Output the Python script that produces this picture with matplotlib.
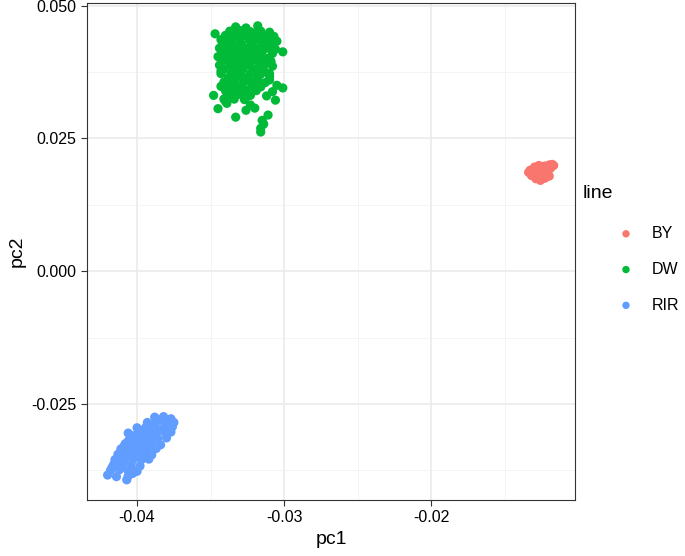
import matplotlib
matplotlib.use("Agg")
import matplotlib.pyplot as plt
import numpy as np

plt.rcParams['font.family'] = ['Liberation Sans', 'DejaVu Sans']
plt.rcParams['axes.unicode_minus'] = False

categories = ["BY", "DW", "RIR"]
colors = ["#F8766D", "#00BA38", "#619CFF"]

# BY
by_pc1 = [-0.0133, -0.0130, -0.0127, -0.0123, -0.0120, -0.0118, -0.0119, -0.0122, -0.0126, -0.0130,
          -0.0132, -0.0128, -0.0124, -0.0121, -0.0123, -0.0126, -0.0129, -0.0120, -0.0125, -0.0128,
          -0.0134, -0.0117]
by_pc2 = [0.0190, 0.0196, 0.0199, 0.0198, 0.0200, 0.0201, 0.0194, 0.0190, 0.0188, 0.0184,
          0.0180, 0.0178, 0.0182, 0.0184, 0.0175, 0.0171, 0.0174, 0.0179, 0.0193, 0.0185,
          0.0186, 0.0199]

# DW
dw_pc1 = [-0.0333, -0.0326, -0.0318,
          -0.0347, -0.0337, -0.0330, -0.0323, -0.0316, -0.0310,
          -0.0340, -0.0334, -0.0327, -0.0320, -0.0314, -0.0307,
          -0.0343, -0.0336, -0.0330, -0.0324, -0.0317, -0.0311, -0.0305,
          -0.0342, -0.0335, -0.0329, -0.0322, -0.0315, -0.0309,
          -0.0344, -0.0338, -0.0332, -0.0325, -0.0319, -0.0312, -0.0306, -0.0301,
          -0.0341, -0.0334, -0.0328, -0.0321, -0.0315, -0.0308,
          -0.0345, -0.0338, -0.0331, -0.0325, -0.0318, -0.0311,
          -0.0342, -0.0335, -0.0329, -0.0322, -0.0315, -0.0309,
          -0.0344, -0.0337, -0.0330, -0.0324, -0.0317, -0.0308,
          -0.0341, -0.0334, -0.0328, -0.0321, -0.0314,
          -0.0343, -0.0336, -0.0330, -0.0323, -0.0316, -0.0310,
          -0.0343, -0.0338, -0.0332, -0.0325, -0.0318, -0.0310,
          -0.0341, -0.0334, -0.0327, -0.0320, -0.0313,
          -0.0343, -0.0336, -0.0329, -0.0322, -0.0316,
          -0.0340, -0.0333, -0.0326, -0.0319, -0.0310, -0.0301, -0.0305,
          -0.0348, -0.0337, -0.0330, -0.0323,
          -0.0341, -0.0334, -0.0327, -0.0312, -0.0308,
          -0.0339, -0.0323, -0.0326,
          -0.0345, -0.0333, -0.0311, -0.0315, -0.0316, -0.0314, -0.0320, -0.0306, -0.0316,
          -0.0330, -0.0322, -0.0337, -0.0326, -0.0332, -0.0319, -0.0327, -0.0335, -0.0321, -0.0329,
          -0.0324, -0.0318, -0.0331, -0.0339, -0.0312, -0.0326, -0.0333, -0.0320,
          -0.0339, -0.0341, -0.0338, -0.0340]
dw_pc2 = [0.0460, 0.0458, 0.0462,
          0.0447, 0.0452, 0.0453, 0.0451, 0.0452, 0.0450,
          0.0444, 0.0444, 0.0445, 0.0444, 0.0443, 0.0442,
          0.0436, 0.0436, 0.0437, 0.0436, 0.0435, 0.0436, 0.0433,
          0.0428, 0.0428, 0.0427, 0.0428, 0.0429, 0.0427,
          0.0420, 0.0420, 0.0421, 0.0420, 0.0419, 0.0420, 0.0418, 0.0413,
          0.0412, 0.0412, 0.0411, 0.0412, 0.0413, 0.0410,
          0.0404, 0.0404, 0.0404, 0.0403, 0.0404, 0.0401,
          0.0396, 0.0396, 0.0395, 0.0396, 0.0397, 0.0395,
          0.0388, 0.0388, 0.0389, 0.0388, 0.0387, 0.0386,
          0.0380, 0.0380, 0.0381, 0.0380, 0.0379,
          0.0372, 0.0372, 0.0373, 0.0372, 0.0371, 0.0372,
          0.0377, 0.0364, 0.0364, 0.0365, 0.0364, 0.0367,
          0.0356, 0.0356, 0.0357, 0.0356, 0.0355,
          0.0348, 0.0348, 0.0349, 0.0348, 0.0347,
          0.0340, 0.0340, 0.0341, 0.0340, 0.0360, 0.0345, 0.0350,
          0.0331, 0.0332, 0.0333, 0.0331,
          0.0324, 0.0324, 0.0323, 0.0330, 0.0338,
          0.0316, 0.0313, 0.0303,
          0.0306, 0.0290, 0.0294, 0.0284, 0.0269, 0.0277, 0.0307, 0.0322, 0.0262,
          0.0440, 0.0432, 0.0424, 0.0416, 0.0408, 0.0400, 0.0392, 0.0384, 0.0376, 0.0368,
          0.0360, 0.0352, 0.0344, 0.0336, 0.0392, 0.0328, 0.0456, 0.0448,
          0.0432, 0.0400, 0.0352, 0.0320]

# RIR
rir_pc1 = [-0.0388, -0.0382, -0.0377,
           -0.0393, -0.0387, -0.0381, -0.0375,
           -0.0400, -0.0394, -0.0388, -0.0382, -0.0376,
           -0.0406, -0.0399, -0.0393, -0.0387, -0.0381, -0.0377,
           -0.0404, -0.0398, -0.0392, -0.0386, -0.0380,
           -0.0408, -0.0402, -0.0396, -0.0390, -0.0384,
           -0.0411, -0.0405, -0.0399, -0.0393, -0.0387,
           -0.0413, -0.0407, -0.0401, -0.0395, -0.0390,
           -0.0415, -0.0409, -0.0403, -0.0397, -0.0392,
           -0.0416, -0.0410, -0.0404, -0.0398,
           -0.0418, -0.0412, -0.0406, -0.0400,
           -0.0420, -0.0414, -0.0406, -0.0407,
           -0.0385, -0.0379, -0.0391, -0.0397, -0.0390, -0.0384, -0.0403, -0.0396, -0.0389,
           -0.0406, -0.0400, -0.0393, -0.0409, -0.0403, -0.0397, -0.0411, -0.0405, -0.0400,
           -0.0413, -0.0407, -0.0415, -0.0409, -0.0417, -0.0411, -0.0403]
rir_pc2 = [-0.0275, -0.0274, -0.0278,
           -0.0285, -0.0284, -0.0286, -0.0285,
           -0.0295, -0.0294, -0.0296, -0.0295, -0.0293,
           -0.0305, -0.0304, -0.0306, -0.0305, -0.0304, -0.0303,
           -0.0315, -0.0314, -0.0316, -0.0315, -0.0314,
           -0.0325, -0.0324, -0.0326, -0.0325, -0.0327,
           -0.0335, -0.0334, -0.0336, -0.0335, -0.0334,
           -0.0345, -0.0344, -0.0346, -0.0345, -0.0346,
           -0.0355, -0.0354, -0.0356, -0.0355, -0.0354,
           -0.0365, -0.0364, -0.0366, -0.0367,
           -0.0375, -0.0374, -0.0376, -0.0377,
           -0.0384, -0.0387, -0.0386, -0.0393,
           -0.0280, -0.0281, -0.0290, -0.0300, -0.0300, -0.0299, -0.0310, -0.0310, -0.0311,
           -0.0320, -0.0320, -0.0321, -0.0330, -0.0330, -0.0331, -0.0340, -0.0340, -0.0341,
           -0.0350, -0.0350, -0.0360, -0.0360, -0.0370, -0.0370, -0.0381]

x_ticks = [-0.04, -0.03, -0.02]
x_minor = [-0.035, -0.025, -0.015]
y_ticks = [-0.025, 0.000, 0.025, 0.050]
y_minor = [-0.0375, -0.0125, 0.0125, 0.0375]

fig = plt.figure(figsize=(6.85, 5.56), dpi=100)
ax = fig.add_axes([87/685, 56/556, (575-87)/685, (500-3)/556])

for v in x_minor:
    ax.axvline(v, color="#F2F2F2", lw=0.6, zorder=0)
for v in y_minor:
    ax.axhline(v, color="#F2F2F2", lw=0.6, zorder=0)
for v in x_ticks:
    ax.axvline(v, color="#EBEBEB", lw=1.2, zorder=0)
for v in y_ticks:
    ax.axhline(v, color="#EBEBEB", lw=1.2, zorder=0)

data = [(by_pc1, by_pc2), (dw_pc1, dw_pc2), (rir_pc1, rir_pc2)]
for (xs, ys), c, lab in zip(data, colors, categories):
    ax.scatter(xs, ys, s=44, color=c, edgecolors='none', label=lab, zorder=2)

ax.set_xlim(-0.0434, -0.01025)
ax.set_ylim(-0.0431, 0.0505)
ax.set_xticks(x_ticks)
ax.set_xticklabels([f"{v:.2f}" for v in x_ticks])
ax.set_yticks(y_ticks)
ax.set_yticklabels([f"{v:.3f}" for v in y_ticks])
ax.tick_params(axis='both', labelsize=11.5, colors='#333333', labelcolor='black',
               length=4, width=0.8, direction='out')
for s in ax.spines.values():
    s.set_color('#333333')
    s.set_linewidth(0.8)
ax.set_xlabel("pc1", fontsize=14, labelpad=4)
ax.set_ylabel("pc2", fontsize=14, labelpad=4)

fig.text(583/685, 1 - 193/556, "line", fontsize=14, va='center', ha='left')
leg = fig.legend(loc='upper left', bbox_to_anchor=(618/685, 1 - 226/556),
                 frameon=False, fontsize=11.5, markerscale=0.8,
                 handlelength=1.0, handletextpad=1.1, labelspacing=1.3, borderpad=0.0,
                 borderaxespad=0.0)

fig.savefig("out.png", dpi=100)
